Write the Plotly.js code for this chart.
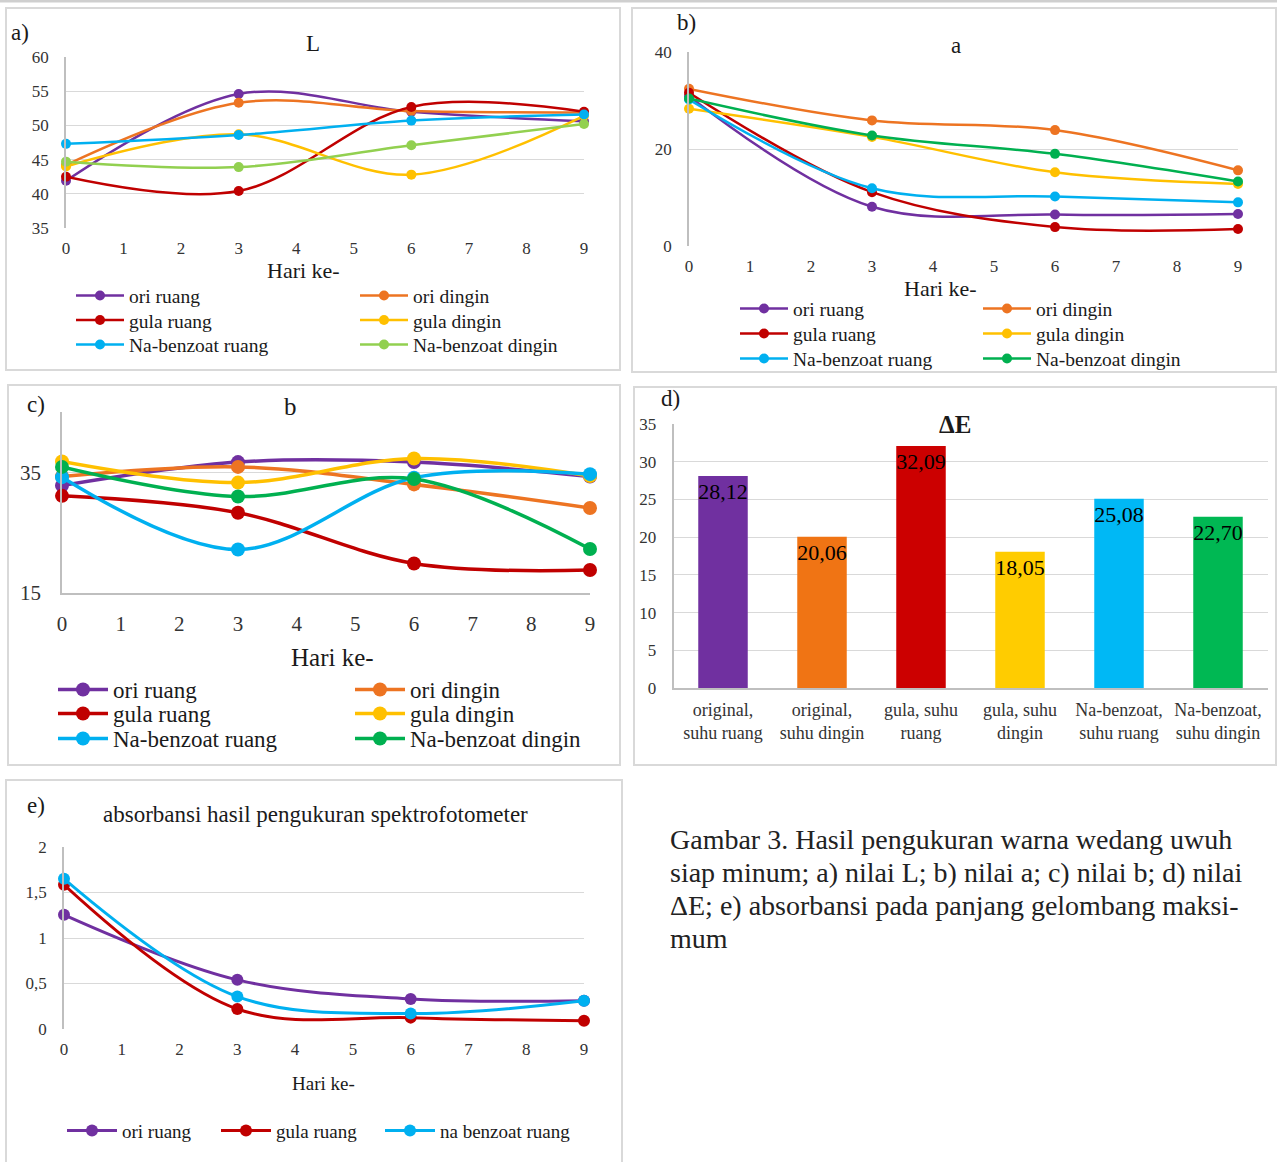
<!DOCTYPE html>
<html>
<head>
<meta charset="utf-8">
<script src="https://cdn.plot.ly/plotly-3.0.1.min.js"></script>
<style>html,body{margin:0;padding:0;background:#fff;}#chart{width:1277px;height:1162px;}</style>
</head>
<body>
<div id="chart"></div>
<script>
// ---------- DATA ----------
const days = [0, 3, 6, 9];
const seriesNames = ['ori ruang', 'ori dingin', 'gula ruang', 'gula dingin', 'Na-benzoat ruang', 'Na-benzoat dingin'];

// a) L
const L_oriRuang   = [41.9, 54.6, 52.0, 50.6];
const L_oriDingin  = [44.2, 53.3, 52.1, 51.9];
const L_gulaRuang  = [42.5, 40.4, 52.7, 52.0];
const L_gulaDingin = [44.0, 48.7, 42.8, 51.4];
const L_naRuang    = [47.3, 48.6, 50.7, 51.6];
const L_naDingin   = [44.7, 43.9, 47.1, 50.2];

// b) a
const a_oriRuang   = [30.9, 8.1, 6.5, 6.6];
const a_oriDingin  = [32.4, 25.9, 23.9, 15.6];
const a_gulaRuang  = [31.6, 11.1, 3.9, 3.5];
const a_gulaDingin = [28.3, 22.5, 15.2, 12.8];
const a_naRuang    = [30.2, 11.9, 10.2, 9.0];
const a_naDingin   = [30.4, 22.8, 19.0, 13.3];

// c) b
const b_oriRuang   = [32.8, 36.7, 36.7, 34.3];
const b_oriDingin  = [34.3, 35.9, 33.0, 29.1];
const b_gulaRuang  = [31.1, 28.3, 19.9, 18.8];
const b_gulaDingin = [36.8, 33.3, 37.3, 34.4];
const b_naRuang    = [34.2, 22.2, 34.1, 34.7];
const b_naDingin   = [35.9, 31.0, 33.9, 22.3];

// d) Delta E
const dE_categories = ['original,<br>suhu ruang', 'original,<br>suhu dingin', 'gula, suhu<br>ruang', 'gula, suhu<br>dingin', 'Na-benzoat,<br>suhu ruang', 'Na-benzoat,<br>suhu dingin'];
const dE_values = [28.12, 20.06, 32.09, 18.05, 25.08, 22.70];

// e) absorbance
const e_names = ['ori ruang', 'gula ruang', 'na benzoat ruang'];
const abs_oriRuang  = [1.255, 0.54, 0.33, 0.31];
const abs_gulaRuang = [1.585, 0.22, 0.125, 0.09];
const abs_naRuang   = [1.65, 0.356, 0.17, 0.31];

const captionLines = [
  'Gambar 3. Hasil pengukuran warna wedang uwuh',
  'siap minum; a) nilai L; b) nilai a; c) nilai b; d) nilai',
  'ΔE; e) absorbansi pada panjang gelombang maksi-',
  'mum'
];

// ---------- STYLE ----------
const W = 1277, H = 1162;
const fx = p => p / W;
const fy = p => 1 - p / H;
const FONT = 'Liberation Serif, Times New Roman, serif';
const TXT = '#1a1a1a';
const C = {purple:'#7030A0', orange:'#ED7422', red:'#C00000', yellow:'#FFC000', blue:'#00B0F0', green:'#00B050', lgreen:'#92D050'};

const traces = [];
function addLine(xa, ya, y, name, color, legend, lw, ms) {
  traces.push({
    type: 'scatter', mode: 'lines+markers', x: days, y: y, name: name,
    xaxis: xa, yaxis: ya, legend: legend, cliponaxis: false,
    line: {color: color, width: lw, shape: 'spline', smoothing: 1},
    marker: {color: color, size: ms},
    hoverinfo: 'x+y+name'
  });
}
const lgId = n => (n === 1 ? 'legend' : 'legend' + n);
// a
const colA = [C.purple, C.orange, C.red, C.yellow, C.blue, C.lgreen];
[L_oriRuang, L_oriDingin, L_gulaRuang, L_gulaDingin, L_naRuang, L_naDingin].forEach((s, i) =>
  addLine('x', 'y', s, seriesNames[i], colA[i], lgId(1 + i), 2.5, 10));
// b
const colB = [C.purple, C.orange, C.red, C.yellow, C.blue, C.green];
[a_oriRuang, a_oriDingin, a_gulaRuang, a_gulaDingin, a_naRuang, a_naDingin].forEach((s, i) =>
  addLine('x2', 'y2', s, seriesNames[i], colB[i], lgId(7 + i), 2.5, 10));
// c
[b_oriRuang, b_oriDingin, b_gulaRuang, b_gulaDingin, b_naRuang, b_naDingin].forEach((s, i) =>
  addLine('x3', 'y3', s, seriesNames[i], colB[i], lgId(13 + i), 3.5, 14));
// d
traces.push({
  type: 'bar', x: dE_categories, y: dE_values, xaxis: 'x4', yaxis: 'y4', showlegend: false,
  marker: {color: [C.purple, '#F07414', '#CC0000', '#FFCC00', '#00B8F5', '#00B853']},
  texttemplate: '%{y:.2f}', textposition: 'inside', insidetextanchor: 'end', constraintext: 'none', textangle: 0,
  textfont: {family: FONT, size: 22, color: '#000'}, width: 0.5
});
// e
[abs_oriRuang, abs_gulaRuang, abs_naRuang].forEach((s, i) =>
  addLine('x5', 'y5', s, e_names[i], [C.purple, C.red, C.blue][i], lgId(19 + i), 3, 12));

// ---------- LAYOUT ----------
const tick = (size) => ({family: FONT, size: size, color: '#333'});
function xAx(l, r, anchor, size, extra) {
  return Object.assign({domain: [fx(l), fx(r)], anchor: anchor, range: [0, 9], dtick: 1, tick0: 0,
    showgrid: false, zeroline: false, showline: false, ticks: '', tickfont: tick(size), ticklabelstandoff: 8, fixedrange: true}, extra || {});
}
function yAx(top, bot, anchor, range, dtick, size, extra) {
  return Object.assign({domain: [fy(bot), fy(top)], anchor: anchor, range: range, dtick: dtick, tick0: range[0],
    showgrid: true, gridcolor: '#d9d9d9', gridwidth: 1, zeroline: false, showline: true, linecolor: '#bfbfbf', linewidth: 1.5,
    ticks: '', tickfont: tick(size), ticklabelstandoff: 12, fixedrange: true}, extra || {});
}

// legend placed so that its single row is centred at cy, text starting at tx
function legendAt(tx, cy, size, iw) {
  const top = cy - ((1.3 * size + 3) / 2 + 5.5);
  return {x: fx(tx - iw - 10), y: fy(top), xanchor: 'left', yanchor: 'top', orientation: 'v',
    itemwidth: iw, bgcolor: 'rgba(0,0,0,0)', font: {family: FONT, size: size, color: TXT}, tracegroupgap: 0, itemclick: false};
}

function ann(text, xpx, ypx, size, opts) {
  return Object.assign({text: text, x: fx(xpx), y: fy(ypx), xref: 'paper', yref: 'paper', showarrow: false,
    xanchor: 'center', yanchor: 'middle', font: {family: FONT, size: size, color: TXT}}, opts || {});
}
function box(l, t, r, b) {
  return {type: 'rect', xref: 'paper', yref: 'paper', x0: fx(l), x1: fx(r), y0: fy(b), y1: fy(t),
    line: {color: '#d9d9d9', width: 2}, fillcolor: 'rgba(0,0,0,0)', layer: 'below'};
}

const layout = {
  width: W, height: H, margin: {l: 0, r: 0, t: 0, b: 0}, paper_bgcolor: '#fff', plot_bgcolor: 'rgba(0,0,0,0)',
  separators: ',.', showlegend: true, hovermode: 'closest',
  font: {family: FONT, color: TXT},
  xaxis:  xAx(66, 584, 'y', 17),
  yaxis:  yAx(57, 228, 'x', [35, 60], 5, 17),
  xaxis2: xAx(689, 1238, 'y2', 17),
  yaxis2: yAx(52, 246, 'x2', [0, 40], 20, 17),
  xaxis3: xAx(62, 590, 'y3', 21, {showline: true, linecolor: '#bfbfbf', linewidth: 1.5, ticklabelstandoff: 11}),
  yaxis3: yAx(412, 593, 'x3', [15, 45], 20, 21, {ticklabelstandoff: 15}),
  xaxis4: {domain: [fx(673.5), fx(1267.5)], anchor: 'y4', type: 'category', showgrid: false, zeroline: false,
           showline: true, linecolor: '#bfbfbf', linewidth: 2, ticks: '', tickfont: tick(18), ticklabelstandoff: 4, fixedrange: true},
  yaxis4: yAx(424, 688, 'x4', [0, 35], 5, 17),
  xaxis5: xAx(64, 584, 'y5', 17),
  yaxis5: yAx(847, 1029, 'x5', [0, 2], 0.5, 17),
  bargap: 0.5,
  shapes: [
    {type: 'line', xref: 'paper', yref: 'paper', x0: 0, x1: 1, y0: fy(1), y1: fy(1), line: {color: '#cfcfcf', width: 3}},
    box(6, 8, 620, 370),
    box(632, 8, 1276, 372),
    box(8, 385, 620, 765),
    box(634, 387, 1276, 765),
    box(6, 780, 622, 1163)
  ],
  annotations: [
    ann('a)', 20, 33, 23),
    ann('L', 313, 43, 23),
    ann('Hari ke-', 303, 271, 22),
    ann('b)', 686, 22, 23),
    ann('a', 956, 46, 23),
    ann('Hari ke-', 940, 288, 22),
    ann('c)', 36, 405, 23),
    ann('b', 290, 407, 25),
    ann('Hari ke-', 332, 657, 25),
    ann('d)', 670, 398, 23),
    ann('<b>ΔE</b>', 955, 424, 25),
    ann('e)', 36, 805, 23),
    ann('absorbansi hasil pengukuran spektrofotometer', 315, 814, 23),
    ann('Hari ke-', 323, 1083, 19)
  ]
};
captionLines.forEach((t, i) => layout.annotations.push(
  ann(t, 668, 839 + i * 33.3, 28, {xanchor: 'left', font: {family: FONT, size: 28, color: '#222'}})));

// legends: panel a (1-6), b (7-12), c (13-18), e (19-21)
const colX = {a: [129, 413], b: [793, 1036], c: [113, 410], e: [122, 276, 440]};
const rowY = {a: [296, 320.5, 345], b: [309, 334, 359], c: [690, 714, 739]};
for (let i = 0; i < 6; i++) {
  const col = i % 2, row = Math.floor(i / 2);
  layout[lgId(1 + i)]  = legendAt(colX.a[col], rowY.a[row], 19.5, 48);
  layout[lgId(7 + i)]  = legendAt(colX.b[col], rowY.b[row], 19.5, 48);
  layout[lgId(13 + i)] = legendAt(colX.c[col], rowY.c[row], 23, 50);
}
for (let i = 0; i < 3; i++) layout[lgId(19 + i)] = legendAt(colX.e[i], 1131, 19, 50);

Plotly.newPlot('chart', traces, layout, {displayModeBar: false, responsive: false});
</script>
</body>
</html>
